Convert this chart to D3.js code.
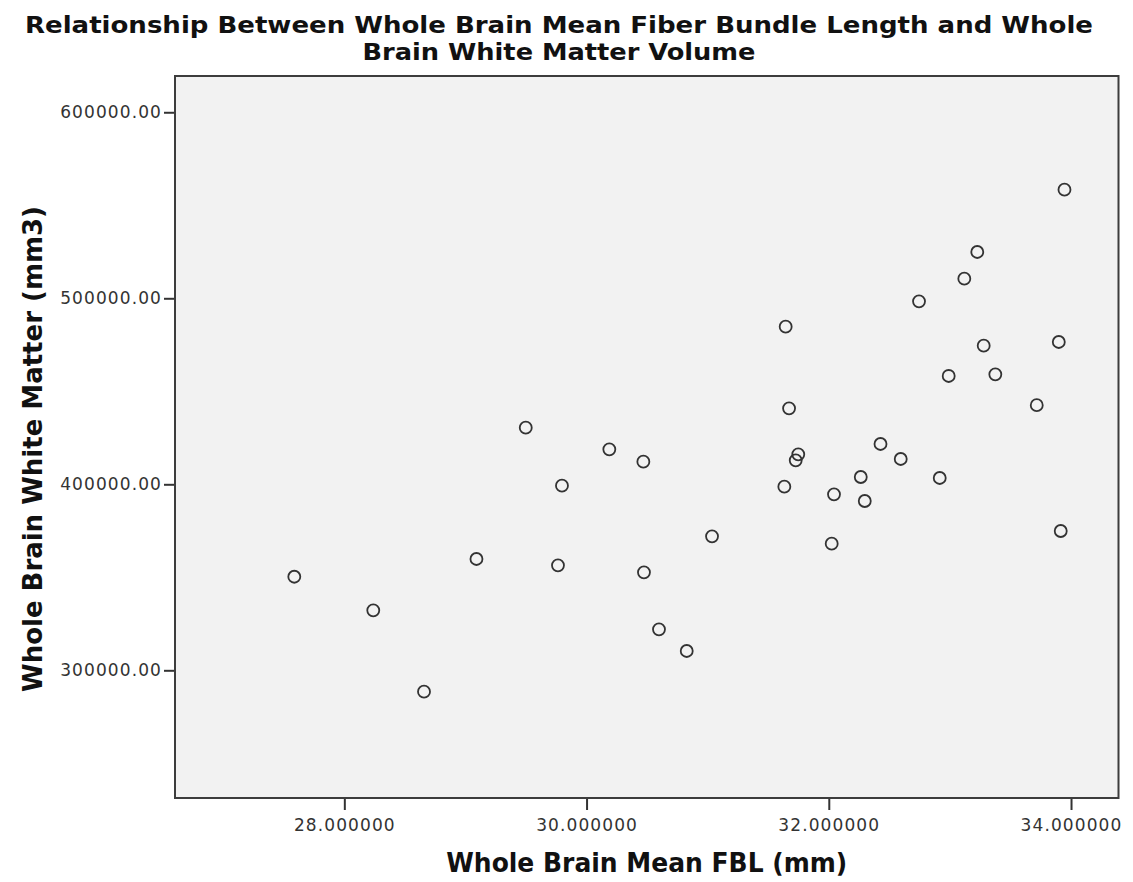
<!DOCTYPE html>
<html>
<head>
<meta charset="utf-8">
<script src="https://cdn.jsdelivr.net/npm/d3@7"></script>
<style>
  body { margin: 0; background: #fff; }
  svg { display: block; }
</style>
</head>
<body>
<svg id="chart" width="1133" height="882"></svg>
<script>
// Data
const fbl = [27.587, 28.239, 28.658, 29.091, 29.498, 29.797, 29.764, 30.188, 30.469, 30.474,
  30.598, 30.827, 31.036, 31.633, 31.644, 31.672, 31.727, 31.748, 32.024, 32.043,
  32.264, 32.297, 32.427, 32.594, 32.745, 32.916, 32.990, 33.119, 33.226, 33.279,
  33.375, 33.717, 33.899, 33.915, 33.946];
const wmVolume = [350300, 332260, 288500, 359840, 430430, 399250, 356450, 418820, 412150, 352690,
  322050, 310380, 372050, 398710, 484730, 440860, 412900, 416130, 368070, 394620,
  403920, 391020, 421670, 413600, 498390, 403390, 458230, 510540, 524890, 474520,
  459140, 442530, 476500, 374890, 558390];

const xTicks = [28, 30, 32, 34];
const yTicks = [300000, 400000, 500000, 600000];

const titleLines = ["Relationship Between Whole Brain Mean Fiber Bundle Length and Whole",
  "Brain White Matter Volume"];
const xTitle = "Whole Brain Mean FBL (mm)";
const yTitle = "Whole Brain White Matter (mm3)";

// Layout
const svg = d3.select("svg#chart");
const margin = {left: 175, top: 76, right: 1118.5, bottom: 798};
const boldFont = "'DejaVu Sans Condensed', 'Liberation Sans Narrow', sans-serif";
const tickFont = "'DejaVu Sans', Verdana, sans-serif";

// Scales
const x = d3.scaleLinear()
  .domain([26.602, 34.392])
  .range([margin.left, margin.right]);
const y = d3.scaleLinear()
  .domain([231350, 619500])
  .range([margin.bottom, margin.top]);

// Plot background
svg.append("rect")
  .attr("x", margin.left)
  .attr("y", margin.top)
  .attr("width", margin.right - margin.left)
  .attr("height", margin.bottom - margin.top)
  .style("fill", "#f2f2f2");

// Axes
const xAxis = svg.append("g")
  .attr("transform", "translate(0," + margin.bottom + ")")
  .call(d3.axisBottom(x)
    .tickValues(xTicks)
    .tickFormat(d3.format(".6f"))
    .tickSize(12)
    .tickPadding(9)
    .tickSizeOuter(0));

const yAxis = svg.append("g")
  .attr("transform", "translate(" + margin.left + ",0)")
  .call(d3.axisLeft(y)
    .tickValues(yTicks)
    .tickFormat(d3.format(".2f"))
    .tickSize(11)
    .tickPadding(2)
    .tickSizeOuter(0));

[xAxis, yAxis].forEach(function (a) {
  a.select(".domain").remove();
  a.selectAll(".tick line")
    .style("stroke", "#333")
    .style("stroke-width", 2);
  a.selectAll(".tick text")
    .style("font-family", tickFont)
    .style("font-size", "17px")
    .style("letter-spacing", "1.1px")
    .style("fill", "#333");
});

// Plot frame
svg.append("rect")
  .attr("x", margin.left)
  .attr("y", margin.top)
  .attr("width", margin.right - margin.left)
  .attr("height", margin.bottom - margin.top)
  .style("fill", "none")
  .style("stroke", "#3d3d3d")
  .style("stroke-width", 2);

// Points
svg.append("g")
  .selectAll("circle")
  .data(fbl)
  .join("circle")
    .attr("cx", d => x(d))
    .attr("cy", (d, i) => y(wmVolume[i]))
    .attr("r", 6)
    .style("fill", "none")
    .style("stroke", "#333")
    .style("stroke-width", 1.8);

// Title
const titleWidths = [1068, 393];
svg.selectAll("text.title")
  .data(titleLines)
  .join("text")
    .attr("class", "title")
    .attr("x", 559)
    .attr("y", (d, i) => 33 + i * 27)
    .attr("text-anchor", "middle")
    .attr("textLength", (d, i) => titleWidths[i])
    .attr("lengthAdjust", "spacingAndGlyphs")
    .style("font-family", boldFont)
    .style("font-weight", "bold")
    .style("font-size", "23px")
    .style("fill", "#111")
    .text(d => d);

// Axis titles
svg.append("text")
  .attr("x", (margin.left + margin.right) / 2)
  .attr("y", 872)
  .attr("text-anchor", "middle")
  .attr("textLength", 401)
  .attr("lengthAdjust", "spacingAndGlyphs")
  .style("font-family", boldFont)
  .style("font-weight", "bold")
  .style("font-size", "26px")
  .style("fill", "#111")
  .text(xTitle);

svg.append("text")
  .attr("transform", "translate(42,449) rotate(-90)")
  .attr("text-anchor", "middle")
  .attr("textLength", 486)
  .attr("lengthAdjust", "spacingAndGlyphs")
  .style("font-family", boldFont)
  .style("font-weight", "bold")
  .style("font-size", "26px")
  .style("fill", "#111")
  .text(yTitle);
</script>
</body>
</html>
